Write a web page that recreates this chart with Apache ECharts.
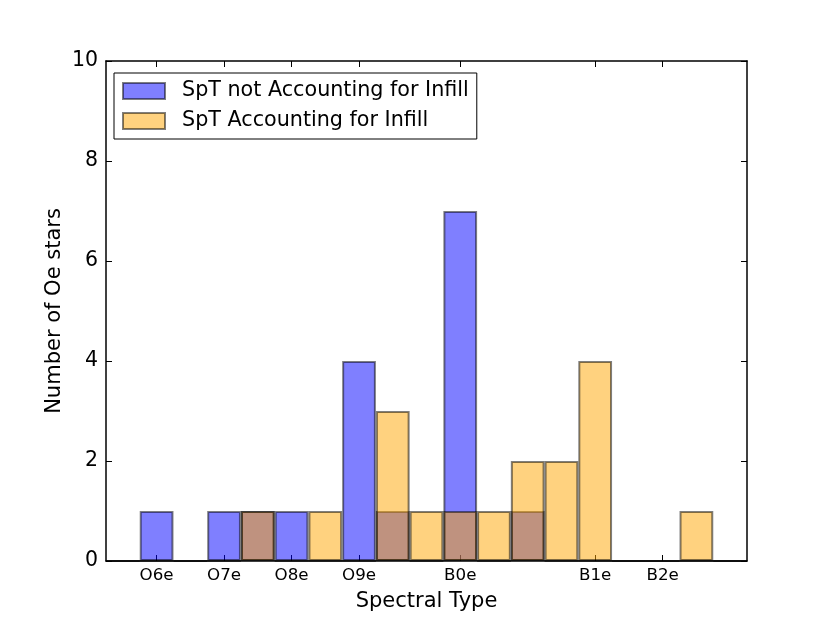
<!DOCTYPE html>
<html>
<head>
<meta charset="utf-8">
<script src="https://cdn.jsdelivr.net/npm/echarts@6/dist/echarts.min.js"></script>
<style>
html,body{margin:0;padding:0;background:#fff;}
#chart{width:830px;height:623px;}
</style>
</head>
<body>
<div id="chart"></div>
<script>
// Histogram bins (19 bins across the spectral-type range)
var categories = ['b0','b1','b2','b3','b4','b5','b6','b7','b8','b9','b10','b11','b12','b13','b14','b15','b16','b17','b18'];
var tickLabels = ['', 'O6e', '', 'O7e', '', 'O8e', '', 'O9e', '', '', 'B0e', '', '', '', 'B1e', '', 'B2e', '', ''];
var notInfill = [0, 1, 0, 1, 1, 1, 0, 4, 1, 0, 7, 0, 1, 0, 0, 0, 0, 0, 0];
var withInfill = [0, 0, 0, 0, 1, 0, 1, 0, 3, 1, 1, 1, 2, 2, 4, 0, 0, 1, 0];
var yTicks = [0, 2, 4, 6, 8, 10];

var FONT = 'DejaVu Sans';
var chart = echarts.init(document.getElementById('chart'), null, {renderer: 'canvas'});
var tickShow = function (i) { return tickLabels[i] !== ''; };

var option = {
  animation: false,
  backgroundColor: '#fff',
  textStyle: {fontFamily: FONT},
  grid: {left: 106, right: 83, top: 61, bottom: 62, containLabel: false},
  legend: {
    show: true,
    orient: 'vertical',
    left: 114,
    top: 73,
    padding: [6, 8, 6, 8],
    itemWidth: 42,
    itemHeight: 16,
    itemGap: 6,
    icon: 'rect',
    borderColor: '#000',
    borderWidth: 1,
    backgroundColor: '#fff',
    textStyle: {fontFamily: FONT, fontSize: 20.7, color: '#000', lineHeight: 24, padding: [0, 0, 0, 12]},
    data: ['SpT not Accounting for Infill', 'SpT Accounting for Infill']
  },
  xAxis: [{
    type: 'category',
    data: categories,
    boundaryGap: true,
    position: 'bottom',
    name: 'Spectral Type',
    nameLocation: 'middle',
    nameGap: 30,
    nameMoveOverlap: false,
    nameTextStyle: {fontFamily: FONT, fontSize: 21, color: '#000'},
    axisLine: {show: true, onZero: false, lineStyle: {color: '#000', width: 1.5}},
    axisTick: {show: true, inside: true, alignWithLabel: true, interval: tickShow, length: 6, lineStyle: {color: '#000', width: 1}},
    axisLabel: {show: true, interval: 0, margin: 6, fontFamily: FONT, fontSize: 16.7, color: '#000',
      formatter: function (v, i) { return tickLabels[i]; }},
    splitLine: {show: false}
  }, {
    type: 'category',
    data: categories,
    boundaryGap: true,
    position: 'top',
    axisLine: {show: true, onZero: false, lineStyle: {color: '#000', width: 1.5}},
    axisTick: {show: true, inside: true, alignWithLabel: true, interval: tickShow, length: 6, lineStyle: {color: '#000', width: 1}},
    axisLabel: {show: false},
    splitLine: {show: false}
  }],
  yAxis: [{
    type: 'value',
    min: yTicks[0],
    max: yTicks[yTicks.length - 1],
    interval: 2,
    position: 'left',
    name: 'Number of Oe stars',
    nameLocation: 'middle',
    nameGap: 41,
    nameMoveOverlap: false,
    nameTextStyle: {fontFamily: FONT, fontSize: 21, color: '#000'},
    axisLine: {show: true, onZero: false, lineStyle: {color: '#000', width: 1.5}},
    axisTick: {show: true, inside: true, length: 6, lineStyle: {color: '#000', width: 1}},
    axisLabel: {show: true, margin: 8, fontFamily: FONT, fontSize: 20.5, color: '#000'},
    splitLine: {show: false}
  }, {
    type: 'value',
    min: yTicks[0],
    max: yTicks[yTicks.length - 1],
    interval: 2,
    position: 'right',
    axisLine: {show: true, onZero: false, lineStyle: {color: '#000', width: 1.5}},
    axisTick: {show: true, inside: true, length: 6, lineStyle: {color: '#000', width: 1}},
    axisLabel: {show: false},
    splitLine: {show: false}
  }],
  series: [{
    name: 'SpT not Accounting for Infill',
    type: 'bar',
    xAxisIndex: 0,
    yAxisIndex: 0,
    data: notInfill,
    barWidth: '100%',
    barGap: '-100%',
    itemStyle: {color: 'rgba(0,0,255,0.5)', borderColor: 'rgba(0,0,0,0.5)', borderWidth: 2},
    emphasis: {disabled: true}
  }, {
    name: 'SpT Accounting for Infill',
    type: 'bar',
    xAxisIndex: 0,
    yAxisIndex: 0,
    data: withInfill,
    barWidth: '100%',
    barGap: '-100%',
    itemStyle: {color: 'rgba(255,165,0,0.5)', borderColor: 'rgba(0,0,0,0.5)', borderWidth: 2},
    emphasis: {disabled: true}
  }]
};
chart.setOption(option);
</script>
</body>
</html>
